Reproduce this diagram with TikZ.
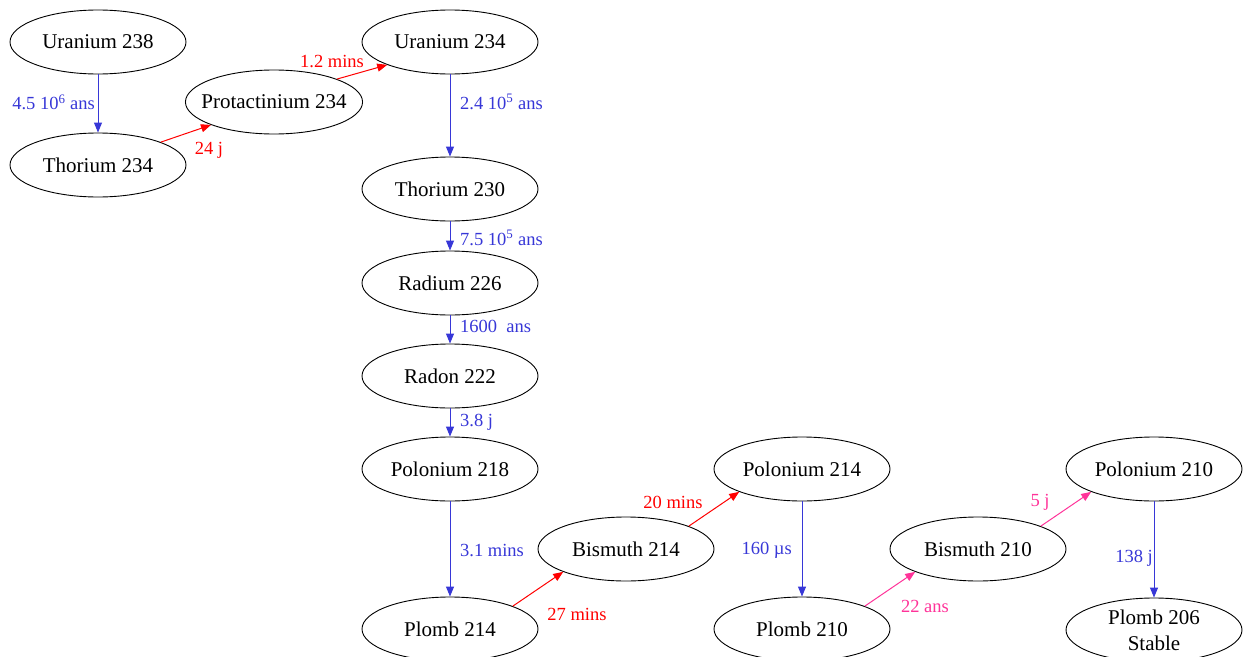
\documentclass[tikz,border=0pt]{standalone}
\usepackage{fontspec}
\setmainfont{Liberation Serif}
\usetikzlibrary{shapes.geometric}
\usetikzlibrary{arrows.meta}
\definecolor{decblue}{RGB}{55,55,215}
\definecolor{decpink}{RGB}{255,51,153}

\begin{document}
\begin{tikzpicture} [x=1pt,y=-1pt,
     el/.style={ellipse, draw, line width=0.9pt, minimum width=176pt, minimum height=64pt, inner xsep=-10pt, inner ysep=0pt, font=\fontsize{21}{25}\selectfont},
     lbl/.style={inner sep=0pt, font=\fontsize{18.5}{21}\selectfont},
     dec/.style={line width=1pt, -{Triangle[length=10pt,width=8pt]}}
   ]
\useasboundingbox (0,0) rectangle (1245,656);

% the chain
\node (u238) [el] at (98,42) {Uranium 238};
\node (th234) [el] at (98,165) {Thorium 234};
\node (pa234) [el] at (274,102) {Protactinium 234};
\node (u234) [el] at (450,42) {Uranium 234};
\node (th230) [el] at (450,189) {Thorium 230};
\node (ra226) [el] at (450,283) {Radium 226};
\node (rn222) [el] at (450,376) {Radon 222};
\node (po218) [el] at (450,469) {Polonium 218};
\node (pb214) [el] at (450,629) {Plomb 214};
\node (bi214) [el] at (626,549) {Bismuth 214};
\node (po214) [el] at (802,469) {Polonium 214};
\node (pb210) [el] at (802,629) {Plomb 210};
\node (bi210) [el] at (978,549) {Bismuth 210};
\node (po210) [el] at (1154,469) {Polonium 210};
\node (pb206) [el, align=center] at (1154,630) {Plomb 206\\[1pt]Stable};

% decays
\draw [dec, decblue] (u238) -- (th234);
\draw [dec, red] (th234.20) -- (pa234.200);
\draw [dec, red] (pa234.20) -- (u234.200);
\draw [dec, decblue] (u234) -- (th230);
\draw [dec, decblue] (th230) -- (ra226);
\draw [dec, decblue] (ra226) -- (rn222);
\draw [dec, decblue] (rn222) -- (po218);
\draw [dec, decblue] (po218) -- (pb214);
\draw [dec, red] (pb214.20) -- (bi214.200);
\draw [dec, red] (bi214.20) -- (po214.200);
\draw [dec, decblue] (po214) -- (pb210);
\draw [dec, decpink] (pb210.20) -- (bi210.200);
\draw [dec, decpink] (bi210.20) -- (po210.200);
\draw [dec, decblue] (po210) -- (pb206);

% half-lives
\node (t1) [lbl, decblue, anchor=east] at (95,102) {4.5 10\textsuperscript{6} ans};
\node (t2) [lbl, red] at (209,150) {24 j};
\node (t3) [lbl, red] at (332,62) {1.2 mins};
\node (t4) [lbl, decblue, anchor=west] at (460,102) {2.4 10\textsuperscript{5} ans};
\node (t5) [lbl, decblue, anchor=west] at (460,238) {7.5 10\textsuperscript{5} ans};
\node (t6) [lbl, decblue, anchor=west] at (460,326) {1600\ \ ans};
\node (t7) [lbl, decblue, anchor=west] at (460,422) {3.8 j};
\node (t8) [lbl, decblue, anchor=west] at (460,550) {3.1 mins};
\node (t9) [lbl, red] at (577,614) {27 mins};
\node (t10) [lbl, red] at (673,502) {20 mins};
\node (t11) [lbl, decblue, anchor=east] at (792,550) {160 µs};
\node (t12) [lbl, decpink] at (925,606) {22 ans};
\node (t13) [lbl, decpink] at (1040,502) {5 j};
\node (t14) [lbl, decblue, anchor=east] at (1153,558) {138 j};
\end{tikzpicture}
\end{document}
